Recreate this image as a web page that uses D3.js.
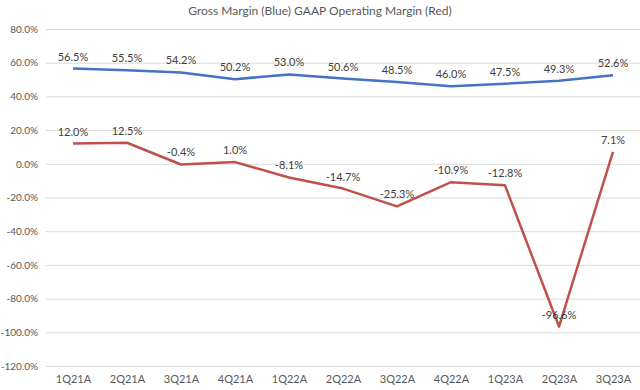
<!DOCTYPE html>
<html>
<head>
<meta charset="utf-8">
<script src="https://cdn.jsdelivr.net/npm/d3@7"></script>
<style>
  body { margin: 0; background: #fff; }
  text { font-family: Lato, "Open Sans", sans-serif; }
</style>
</head>
<body>
<svg width="640" height="390"></svg>
<script>
// quarters along the x axis
var quarters = ["1Q21A", "2Q21A", "3Q21A", "4Q21A", "1Q22A", "2Q22A",
  "3Q22A", "4Q22A", "1Q23A", "2Q23A", "3Q23A"];
// gross margin, % (blue)
var grossMargin = [56.5, 55.5, 54.2, 50.2, 53.0, 50.6, 48.5, 46.0, 47.5, 49.3, 52.6];
// GAAP operating margin, % (red)
var opMargin = [12.0, 12.5, -0.4, 1.0, -8.1, -14.7, -25.3, -10.9, -12.8, -96.6, 7.1];
var yTicks = [80, 60, 40, 20, 0, -20, -40, -60, -80, -100, -120];

var svg = d3.select("svg");
var margin = { top: 29, right: 0, bottom: 24, left: 46 };
var width = 640 - margin.left - margin.right;
var height = 390 - margin.top - margin.bottom;

var x = d3.scalePoint().domain(quarters).range([0, width]).padding(0.5);
var y = d3.scaleLinear().domain([-120, 80]).range([height, 0]);

svg.append("text")
  .attr("x", 320).attr("y", 15)
  .attr("text-anchor", "middle")
  .style("font-size", "12px").style("fill", "#595959")
  .text("Gross Margin (Blue) GAAP Operating Margin (Red)");

var g = svg.append("g")
  .attr("transform", "translate(" + margin.left + "," + margin.top + ")");

// gridlines + y labels
var yAxis = g.append("g")
  .call(d3.axisLeft(y).tickValues(yTicks).tickSize(-width).tickPadding(8)
    .tickFormat(function (d) { return d.toFixed(1) + "%"; }));
yAxis.select(".domain").remove();
yAxis.selectAll("line").attr("stroke", "#d9d9d9");
yAxis.selectAll("text").style("font-size", "10px").style("fill", "#595959")
  .style("font-family", "Lato, 'Open Sans', sans-serif");

var xAxis = g.append("g")
  .attr("transform", "translate(0," + height + ")")
  .call(d3.axisBottom(x).tickSize(0).tickPadding(9));
xAxis.select(".domain").remove();
xAxis.selectAll("text").style("font-size", "11px").style("fill", "#595959")
  .style("font-family", "Lato, 'Open Sans', sans-serif");

function drawSeries(values, color) {
  var line = d3.line()
    .x(function (d, i) { return x(quarters[i]); })
    .y(function (d) { return y(d); });
  g.append("path")
    .datum(values)
    .attr("fill", "none")
    .attr("stroke", color)
    .attr("stroke-width", 2.5)
    .attr("stroke-linejoin", "round")
    .attr("d", line);
  g.selectAll(null)
    .data(values)
    .enter().append("text")
    .attr("x", function (d, i) { return x(quarters[i]); })
    .attr("y", function (d) { return y(d) - 8; })
    .attr("text-anchor", "middle")
    .style("font-size", "11px").style("fill", "#404040")
    .text(function (d) { return d.toFixed(1) + "%"; });
}

drawSeries(grossMargin, "#4472c4");
drawSeries(opMargin, "#c0504d");
</script>
</body>
</html>
